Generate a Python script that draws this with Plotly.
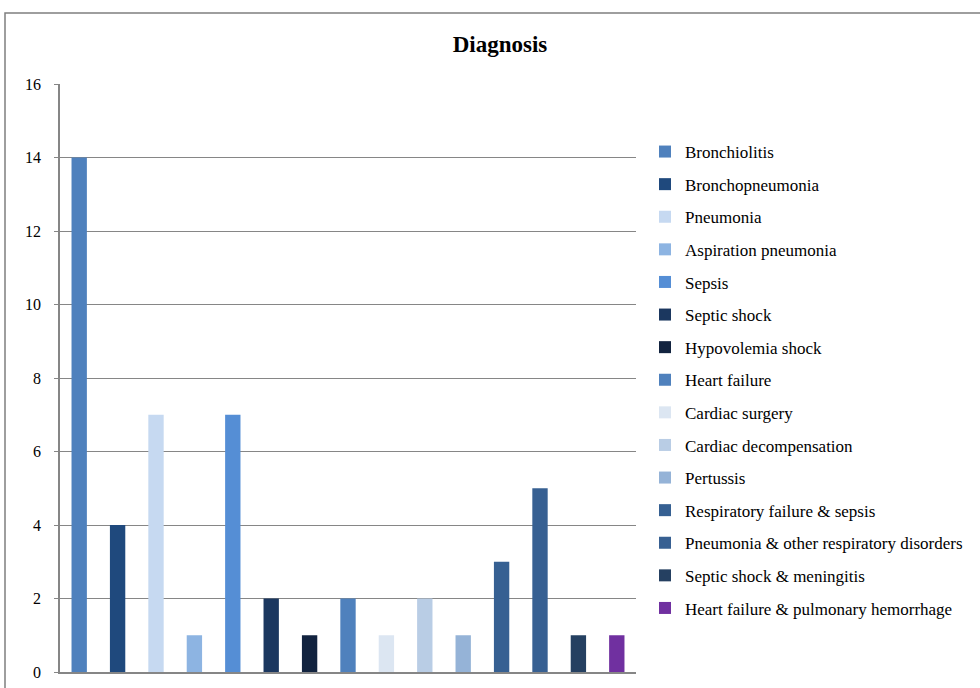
import plotly.graph_objects as go

categories = ["Bronchiolitis", "Bronchopneumonia", "Pneumonia", "Aspiration pneumonia", "Sepsis",
              "Septic shock", "Hypovolemia shock", "Heart failure", "Cardiac surgery",
              "Cardiac decompensation", "Pertussis", "Respiratory failure & sepsis",
              "Pneumonia & other respiratory disorders", "Septic shock & meningitis",
              "Heart failure & pulmonary hemorrhage"]
values = [14, 4, 7, 1, 7, 2, 1, 2, 1, 2, 1, 3, 5, 1, 1]
colors = ["#4F81BD", "#1F497D", "#C6D9F1", "#8DB4E2", "#558ED5", "#1B375F", "#12233F",
          "#4F81BD", "#DCE6F2", "#B9CDE5", "#95B3D7", "#366092", "#376092", "#254061", "#7030A0"]
y_ticks = [0, 2, 4, 6, 8, 10, 12, 14, 16]

W, H = 980, 688
ml, mr, mt, mb = 60, 344, 84, 16
pw, ph = W - ml - mr, H - mt - mb

fig = go.Figure()
for i, (c, v, col) in enumerate(zip(categories, values, colors)):
    fig.add_trace(go.Bar(x=[i], y=[v], name=c, marker=dict(color=col, line=dict(width=0)),
                         width=0.4, legendgroup=c, showlegend=True))

font = "Liberation Serif, Times New Roman, serif"
fig.update_layout(
    width=W, height=H,
    margin=dict(l=ml, r=mr, t=mt, b=mb, autoexpand=False),
    paper_bgcolor="white", plot_bgcolor="white",
    barmode="overlay",
    font=dict(family=font, size=14, color="black"),
    title=dict(text="<b>Diagnosis</b>", x=500 / W, xanchor="center", xref="container",
               y=1 - 44 / H, yanchor="middle", yref="container",
               font=dict(family=font, size=23, color="black")),
    xaxis=dict(range=[-0.5, 14.5], showticklabels=False, showgrid=False, zeroline=False,
               showline=True, linecolor="#868686", linewidth=1.5, ticks="", automargin=False),
    yaxis=dict(range=[0, 16], tickvals=y_ticks, showgrid=True, gridcolor="#868686", gridwidth=1.3,
               zeroline=False, showline=True, linecolor="#868686", linewidth=1.5,
               ticks="outside", ticklen=4, tickcolor="#868686", ticklabelstandoff=10,
               automargin=False,
               tickfont=dict(family=font, size=16, color="black")),
    legend=dict(x=(645 - ml) / pw, xanchor="left", y=1 - (134 - mt) / ph, yanchor="top",
                traceorder="grouped", tracegroupgap=7.5, itemwidth=30,
                font=dict(family=font, size=17, color="black"), bgcolor="rgba(0,0,0,0)"),
    showlegend=True,
)

fig.add_shape(type="rect", xref="paper", yref="paper",
              x0=(5 - ml) / pw, x1=(990 - ml) / pw,
              y0=-(700 - (H - mb)) / ph, y1=1 + (mt - 13) / ph,
              line=dict(color="#7f7f7f", width=1.5), layer="below")

fig.write_html("out.html")
